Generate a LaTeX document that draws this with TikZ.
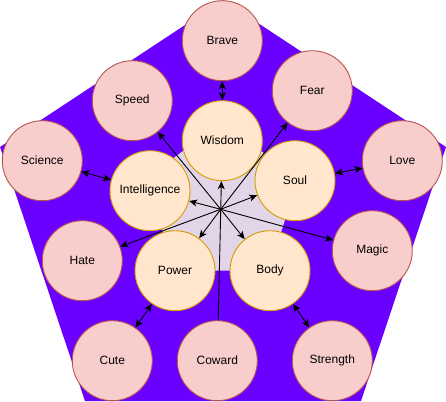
\documentclass[tikz,border=0pt]{standalone}
\usepackage{fontspec}
\setmainfont{Liberation Sans}
\usetikzlibrary{arrows.meta}
\definecolor{violetbg}{HTML}{6A00FF}
\definecolor{violetline}{HTML}{3700CC}
\definecolor{lavfill}{HTML}{E1D5E7}
\definecolor{pinkfill}{HTML}{F8CECC}
\definecolor{pinkline}{HTML}{B85450}
\definecolor{yelfill}{HTML}{FFE6CC}
\definecolor{yelline}{HTML}{D79B00}
\tikzset{
  pinkc/.style={circle, draw=pinkline, fill=pinkfill, line width=0.9pt, minimum size=80pt, inner sep=0pt, font=\fontsize{12pt}{14pt}\selectfont},
  yelc/.style={circle, draw=yelline, fill=yelfill, line width=0.9pt, minimum size=80pt, inner sep=0pt, font=\fontsize{12pt}{14pt}\selectfont},
  arr/.style={line width=0.9pt, -{Stealth[length=8pt,width=7pt,inset=2pt]}, shorten >=0pt},
  darr/.style={line width=0.9pt, {Stealth[length=8pt,width=7pt,inset=2pt]}-{Stealth[length=8pt,width=7pt,inset=2pt]}}
}
\begin{document}
\begin{tikzpicture}[x=1pt,y=-1pt]
\useasboundingbox (0,0) rectangle (446,401);
% outer pentagon
\fill[violetbg] (223,0) -- (446,147) -- (361,401) -- (85,401) -- (0,147) -- cycle;
% inner pentagon
\fill[lavfill] (222,122) -- (298,178.5) -- (269,270.7) -- (175,270.7) -- (146,178.5) -- cycle;
% center
\coordinate (c) at (220.7,209.3);
% outer circles
\node[pinkc] (brave) at (222.3,40.7) {Brave};
\node[pinkc] (fear) at (312.3,90.7) {Fear};
\node[pinkc] (love) at (402.3,160.7) {Love};
\node[pinkc] (magic) at (372.3,250.7) {Magic};
\node[pinkc] (strength) at (332.3,360.7) {Strength};
\node[pinkc] (coward) at (217.3,360.7) {Coward};
\node[pinkc] (cute) at (112.3,360.7) {Cute};
\node[pinkc] (hate) at (82.3,260.7) {Hate};
\node[pinkc] (science) at (42.3,160.7) {Science};
\node[pinkc] (speed) at (132.3,100.7) {Speed};
% inner circles
\node[yelc] (wisdom) at (222.3,140.7) {Wisdom};
\node[yelc] (soul) at (295,180.7) {Soul};
\node[yelc] (intel) at (150,190.7) {Intelligence};
\node[yelc] (power) at (175,270.7) {Power};
\node[yelc] (body) at (270,270.7) {Body};
% arrows from center
\draw[arr] (c) -- (speed);
\draw[arr] (c) -- (fear);
\draw[arr] (c) -- (hate);
\draw[arr] (c) -- (magic);
\draw[arr] (c) -- (intel);
\draw[arr] (c) -- (soul);
\draw[arr] (c) -- (power);
\draw[arr] (c) -- (body);
\draw[arr] (coward) -- (wisdom);
% double arrows
\draw[darr] (brave) -- (wisdom);
\draw[darr] (science) -- (intel);
\draw[darr] (love) -- (soul);
\draw[darr] (cute) -- (power);
\draw[darr] (strength) -- (body);
\end{tikzpicture}
\end{document}
